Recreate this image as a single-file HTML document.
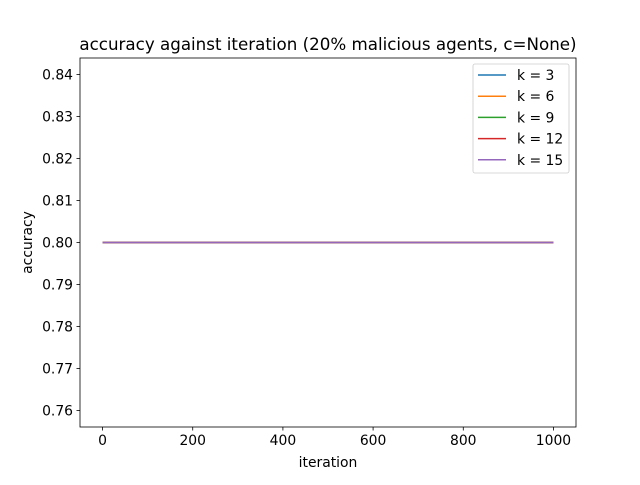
<!DOCTYPE html>
<html><head><meta charset="utf-8"><style>
body{margin:0;background:#fff;font-family:"Liberation Sans","DejaVu Sans",sans-serif}
svg text{font-family:"DejaVu Sans","Liberation Sans",sans-serif;font-size:13.9px;fill:#000}
</style></head><body>
<svg id="c" width="640" height="480">
<rect width="640" height="480" fill="#fff"/>
<text x="328" y="50" text-anchor="middle" style="font-size:16.7px">accuracy against iteration (20% malicious agents, c=None)</text>
<g id="axes"></g>
</svg>
<script>
const categories=["k = 3","k = 6","k = 9","k = 12","k = 15"];
const colors=["#1f77b4","#ff7f0e","#2ca02c","#d62728","#9467bd"];
const seriesX=[[0,1000],[0,1000],[0,1000],[0,1000],[0,1000]];
const seriesY=[[0.8,0.8],[0.8,0.8],[0.8,0.8],[0.8,0.8],[0.8,0.8]];
const xTicks=[0,200,400,600,800,1000];
const yTicks=[0.76,0.77,0.78,0.79,0.80,0.81,0.82,0.83,0.84];
const L=80,R=576,T=58,B=427,x0=-50,x1=1050,y0=0.75608,y1=0.84392;
const sx=v=>L+(v-x0)/(x1-x0)*(R-L), sy=v=>B-(v-y0)/(y1-y0)*(B-T);
const ns="http://www.w3.org/2000/svg", g=document.getElementById('axes');
function mk(t,a,p){const e=document.createElementNS(ns,t);for(const k in a)e.setAttribute(k,a[k]);(p||g).appendChild(e);return e;}
xTicks.forEach(v=>{const x=sx(v);mk('line',{x1:x,x2:x,y1:B,y2:B+3.5,stroke:'#000','stroke-width':0.8});
const t=mk('text',{x:x,y:B+18,'text-anchor':'middle'});t.textContent=v;

});
yTicks.forEach(v=>{const y=sy(v);mk('line',{x1:L-3.5,x2:L,y1:y,y2:y,stroke:'#000','stroke-width':0.8});
const t=mk('text',{x:L-7,y:y+5,'text-anchor':'end'});t.textContent=v.toFixed(2);

});
seriesX.forEach((xs,i)=>{const pts=xs.map((x,j)=>sx(x)+','+sy(seriesY[i][j])).join(' ');
const p=mk('polyline',{points:pts,fill:'none',stroke:colors[i],'stroke-width':1.5});

});
mk('rect',{x:L,y:T,width:R-L,height:B-T,fill:'none',stroke:'#000','stroke-width':0.8});
const xl=mk('text',{x:(L+R)/2,y:467,'text-anchor':'middle'});xl.textContent='iteration';


const yl=mk('text',{x:0,y:0,'text-anchor':'middle',transform:'translate(32,'+((T+B)/2)+') rotate(-90)'});yl.textContent='accuracy';


const lg=mk('g',{});


mk('rect',{x:473,y:64,width:96,height:109,rx:2,fill:'#fff',stroke:'#ccc','stroke-width':0.8},lg);
categories.forEach((c,i)=>{const y=75+i*21.2;
mk('line',{x1:478,x2:506,y1:y,y2:y,stroke:colors[i],'stroke-width':1.5},lg);
const t=mk('text',{x:517,y:y+5},lg);t.textContent=c;

});
</script>
</body></html>
